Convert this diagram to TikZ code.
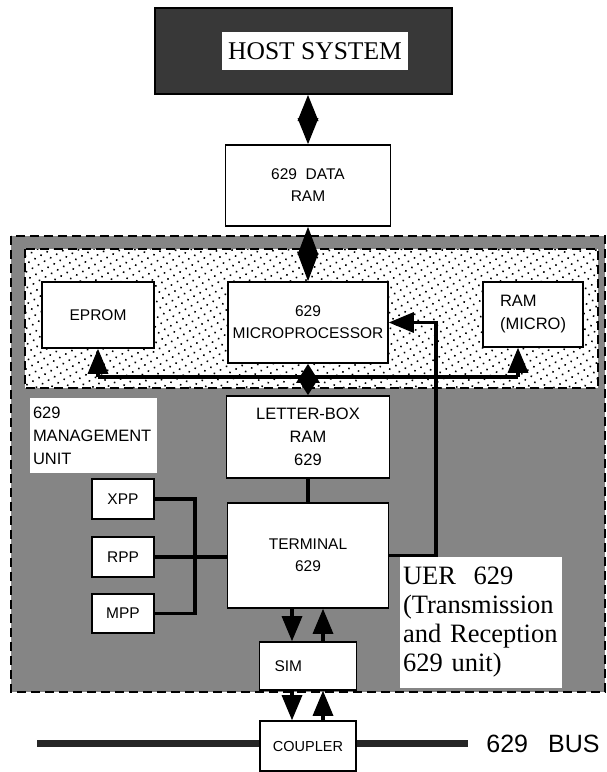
\documentclass[tikz,border=0pt]{standalone}
\usepackage{fontspec}
\setmainfont{Liberation Serif}
\setsansfont{Liberation Sans}
\usetikzlibrary{arrows.meta, patterns.meta}

\begin{document}
\begin{tikzpicture}[
        x=1pt, y=-1pt,
        every node/.style={align=center},
        block/.style={
            rectangle, draw=black, fill=white, line width=1.8pt,
            inner sep=0pt, font=\sffamily\fontsize{15.5}{22}\selectfont
        },
        tag/.style={
            rectangle, fill=white, inner sep=3pt, align=left
        },
        wire/.style={line width=3.5pt},
        arr/.style={line width=3.5pt, -{Triangle[length=25pt, width=21pt, line width=0pt]}},
        dbl/.style={line width=1pt,
            {Triangle[length=#1, width=21pt, line width=0pt]}-{Triangle[length=#1, width=21pt, line width=0pt]}},
        dbl/.default=26pt,
        busbar/.style={line width=7pt, black!85},
        zone/.style={line width=2pt, dash pattern=on 9pt off 5pt},
    ]
    \useasboundingbox (0,0) rectangle (606,772);

    % shaded areas of the UER
    \fill[black!48] (11,236) rectangle (605,692);
    \draw[zone] (11,236) rectangle (605,692);
    \fill[white] (25,249) rectangle (598,388);
    \fill[pattern={Dots[distance=7pt, radius=1.1pt, angle=30]}, pattern color=black] (25,249) rectangle (598,388);
    \draw[zone] (25,249) rectangle (598,388);

    \node (host) [draw=black, fill=black!78, line width=2pt, minimum width=297pt, minimum height=86pt] at (303.5,51) {};
    \node (hostlabel) [fill=white, inner sep=0pt, minimum width=186pt, minimum height=38pt,
                       font=\fontsize{25.5}{28}\selectfont] at (315,51) {HOST SYSTEM};

    \node (dataram)   [block, minimum width=165pt, minimum height=81pt] at (308,185.5) {629\ \ DATA\\RAM};
    \node (eprom)     [block, minimum width=112pt, minimum height=66pt] at (98,315) {EPROM};
    \node (micro)     [block, minimum width=160pt, minimum height=81pt] at (308,322.5) {629\\MICROPROCESSOR};
    \node (rammicro)  [block, minimum width=100pt, minimum height=65pt, align=left,
                       font=\sffamily\fontsize{16.5}{23}\selectfont] at (533,314.5) {RAM\\(MICRO)};
    \node (letterbox) [block, minimum width=163pt, minimum height=82pt,
                       font=\sffamily\fontsize{16.5}{23}\selectfont] at (308,437) {LETTER-BOX\\RAM\\629};
    \node (mgmt)      [tag, text width=121pt, minimum height=75pt,
                       font=\sffamily\fontsize{16.5}{23}\selectfont] at (93.5,435.5) {629\\MANAGEMENT\\UNIT};
    \node (xpp)       [block, minimum width=62pt, minimum height=40pt] at (123,499) {XPP};
    \node (rpp)       [block, minimum width=62pt, minimum height=40pt] at (123,557) {RPP};
    \node (mpp)       [block, minimum width=62pt, minimum height=39pt] at (123,613.5) {MPP};
    \node (terminal)  [block, minimum width=161pt, minimum height=105pt] at (308,555.5) {TERMINAL\\629};
    \node (sim)       [block, text width=67pt, inner xsep=15pt, align=left, minimum height=48pt] at (308,666) {SIM};
    \node (coupler)   [block, minimum width=96pt, minimum height=50pt,
                       font=\sffamily\fontsize{14.5}{18}\selectfont] at (308,746) {COUPLER};
    \node (uer)       [tag, text width=156pt, minimum height=131pt,
                       font=\rmfamily\fontsize{26.5}{29}\selectfont] at (481,622.5) {UER\ \ 629\\(Transmission\\and Reception\\629 unit)};
    \node (buslabel)  [inner sep=0pt, font=\sffamily\fontsize{25}{28}\selectfont] at (543,744) {629\hspace{20pt}BUS};

    \coordinate (busL) at (98,377);
    \coordinate (busR) at (518,377);
    \coordinate (fbx)  at (436,450);
    \coordinate (mgx)  at (195,557);
    \coordinate (barL) at (37,743);
    \coordinate (barR) at (468,743);

    % internal bus
    \draw [wire] (busL) -- (busR);
    \draw [arr]  (busL) -- (eprom);
    \draw [arr]  (busR) -- (busR |- rammicro.south);

    \draw [dbl]      (dataram.north |- host.south) -- (dataram.north);
    \draw [dbl=28pt] (dataram) -- (micro);
    \draw [line width=1pt, {Triangle[length=19pt, width=24pt, line width=0pt]}-{Triangle[length=19pt, width=24pt, line width=0pt]}] (micro) -- (letterbox);
    \draw [wire] (letterbox) -- (terminal);
    \draw [arr]  (terminal.east) -| (fbx) |- (micro.east);

    % processors
    \draw [wire] (xpp.east) -| (mgx) |- (mpp.east);
    \draw [wire] (rpp.east) -- (rpp.east -| terminal.west);

    \draw [arr] ([xshift=-16pt]terminal.south) -- ([xshift=-16pt]terminal.south |- sim.north);
    \draw [arr] ([xshift=15pt]sim.north) -- ([xshift=15pt]sim.north |- terminal.south);
    \draw [arr] ([xshift=-16pt]sim.south) -- ([xshift=-16pt]sim.south |- coupler.north);
    \draw [arr] ([xshift=15pt]coupler.north) -- ([xshift=15pt]coupler.north |- sim.south);

    % 629 bus
    \draw [busbar] (barL) -- (barL -| coupler.west);
    \draw [busbar] (barR -| coupler.east) -- (barR);

    \end{tikzpicture}
\end{document}
